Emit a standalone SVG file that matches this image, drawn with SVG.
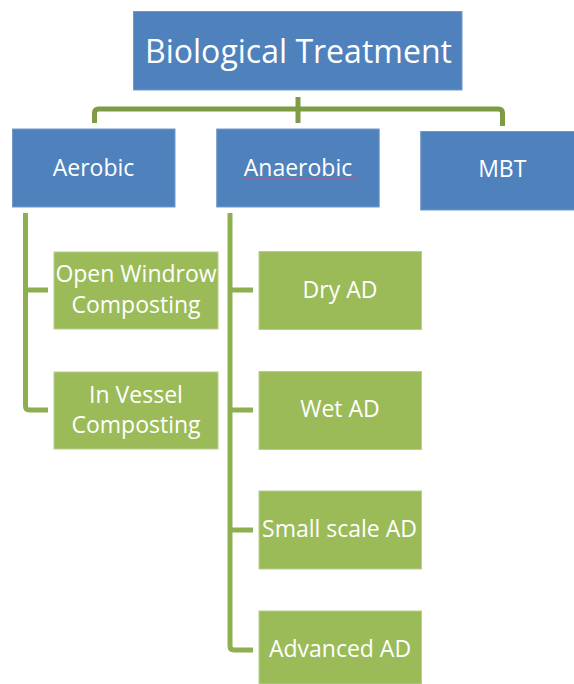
<svg xmlns="http://www.w3.org/2000/svg" width="574" height="684" viewBox="0 0 574 684">
<style>
.blue{fill:#4F81BD;stroke:#7399C9;stroke-width:1}
.green{fill:#9BBB59;stroke:#B7CF8C;stroke-width:1}
.t{font-family:"Open Sans","Noto Sans","Liberation Sans",sans-serif;fill:#FFFFFF;text-anchor:middle;font-size:23px}
.big{font-size:33px}
.c1{fill:none;stroke:#7E9B45;stroke-width:5;stroke-linejoin:round}
.c2{fill:none;stroke:#8DAF50;stroke-width:5;stroke-linejoin:round}
</style>
<rect width="574" height="684" fill="#FFFFFF"/>
<g id="connectors">
<path class="c1" d="M94.5,123 V113 Q94.5,109 98.5,109 H498.5 Q502.5,109 502.5,113 V126"/>
<path class="c1" d="M298,97 V123"/>
<path class="c2" d="M25.5,213 V406 Q25.5,410 29.5,410 H48 M25.5,290 H48"/>
<path class="c2" d="M230,213 V646 Q230,650 234,650 H253 M230,290 H253 M230,410 H253 M230,530 H253"/>
</g>
<g id="biological-treatment">
<rect class="blue" x="133.5" y="11.5" width="328.5" height="78.5"/>
<text class="t big" x="298.5" y="62.7" textLength="307" lengthAdjust="spacingAndGlyphs">Biological Treatment</text>
</g>
<g id="aerobic">
<rect class="blue" x="12.5" y="129" width="162.5" height="78"/>
<text class="t" x="93.5" y="175.7">Aerobic</text>
</g>
<g id="anaerobic">
<rect class="blue" x="216.7" y="129" width="162.5" height="78"/>
<text class="t" x="298" y="175.7">Anaerobic</text>
<path d="M243,177.5 l2,1.2 l2,-1.2 l2,1.2 l2,-1.2 l2,1.2 l2,-1.2 l2,1.2 l2,-1.2 l2,1.2 l2,-1.2 l2,1.2 l2,-1.2 l2,1.2 l2,-1.2 l2,1.2 l2,-1.2 l2,1.2 l2,-1.2 l2,1.2 l2,-1.2 l2,1.2 l2,-1.2 l2,1.2 l2,-1.2 l2,1.2 l2,-1.2 l2,1.2 l2,-1.2 l2,1.2 l2,-1.2 l2,1.2 l2,-1.2 l2,1.2 l2,-1.2 l2,1.2 l2,-1.2 l2,1.2 l2,-1.2 l2,1.2 l2,-1.2 l2,1.2 l2,-1.2 l2,1.2 l2,-1.2 l2,1.2 l2,-1.2 l2,1.2 l2,-1.2 l2,1.2 l2,-1.2 l2,1.2 l2,-1.2 l2,1.2 l2,-1.2 l2,1.2 l2,-1.2 l2,1.2" fill="none" stroke="#C9546A" stroke-width="0.8"/>
</g>
<g id="mbt">
<rect class="blue" x="420.7" y="131.5" width="154" height="78.5"/>
<text class="t" x="502.3" y="177.3">MBT</text>
</g>
<g id="open-windrow-composting">
<rect class="green" x="54" y="252" width="164" height="77"/>
<text class="t" x="136" y="281.7">Open Windrow</text>
<text class="t" x="136" y="312.7">Composting</text>
</g>
<g id="in-vessel-composting">
<rect class="green" x="54" y="372" width="164" height="77"/>
<text class="t" x="136" y="402.7">In Vessel</text>
<text class="t" x="136" y="433.3">Composting</text>
</g>
<g id="dry-ad">
<rect class="green" x="259" y="251.5" width="162.5" height="78"/>
<text class="t" x="340" y="298.3">Dry AD</text>
</g>
<g id="wet-ad">
<rect class="green" x="259" y="371.5" width="162.5" height="78"/>
<text class="t" x="340" y="417.3">Wet AD</text>
</g>
<g id="small-scale-ad">
<rect class="green" x="259" y="491" width="162.5" height="78"/>
<text class="t" x="339.5" y="537.3">Small scale AD</text>
</g>
<g id="advanced-ad">
<rect class="green" x="259" y="611" width="162.5" height="73"/>
<text class="t" x="340" y="657.3">Advanced AD</text>
</g>
</svg>
